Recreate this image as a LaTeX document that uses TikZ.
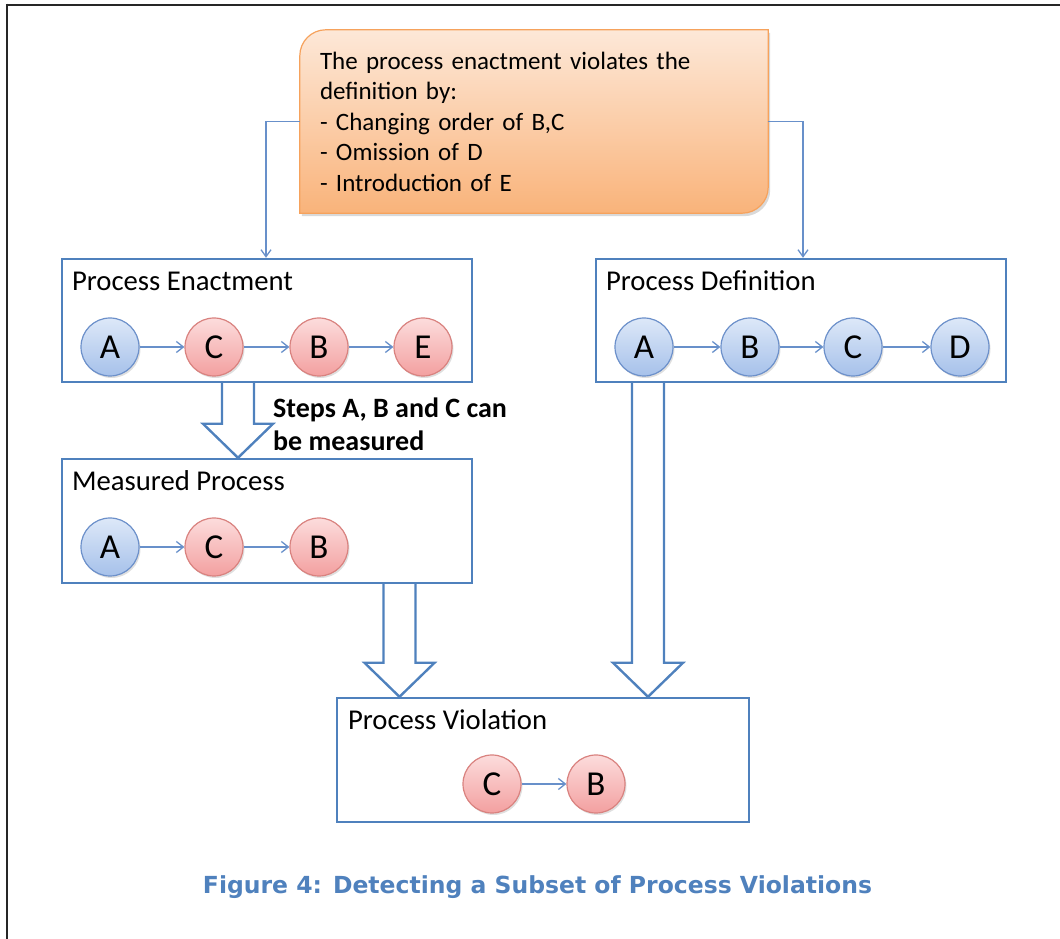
\documentclass[tikz,border=0pt]{standalone}
\usepackage{fontspec}
\setmainfont{Carlito}
\newfontfamily\capfont{DejaVu Sans}
\usetikzlibrary{arrows.meta,shadows,backgrounds,calc}

\definecolor{lineblue}{HTML}{4F81BD}
\definecolor{thinblue}{HTML}{6890CA}
\definecolor{bluetop}{HTML}{DDE8F8}
\definecolor{bluebot}{HTML}{A6C1EA}
\definecolor{blueedge}{HTML}{6C90CA}
\definecolor{redtop}{HTML}{FCDCDC}
\definecolor{redbot}{HTML}{F3A0A0}
\definecolor{rededge}{HTML}{D9827F}
\definecolor{notetop}{HTML}{FDE8D8}
\definecolor{notebot}{HTML}{F9B37A}
\definecolor{noteedge}{HTML}{F6A25C}

% hollow block arrow from the centre of one edge to a tip point
\newcommand\blockarrow[2]{%
  \draw[barrow] ($(#1)+(-16,0)$) -- ($(#2)+(-16,34)$) -- ($(#2)+(-35,34)$)
    -- (#2) -- ($(#2)+(35,34)$) -- ($(#2)+(16,34)$) -- ($(#1)+(16,0)$);}

\begin{document}
\begin{tikzpicture}[x=1pt,y=1pt,
  panel/.style={draw=lineblue,line width=2.4pt,minimum width=410pt,minimum height=123pt,inner sep=0pt},
  title/.style={anchor=base west,inner sep=0pt,font=\fontsize{28.7}{32}\selectfont},
  bstep/.style={circle,minimum size=58pt,inner sep=0pt,draw=blueedge,line width=1.2pt,
    top color=bluetop,bottom color=bluebot,font=\fontsize{35}{37}\selectfont,
    drop shadow={opacity=0.25,shadow xshift=1.5pt,shadow yshift=-2pt}},
  rstep/.style={bstep,draw=rededge,top color=redtop,bottom color=redbot},
  flow/.style={draw=thinblue,line width=1.3pt,-{Straight Barb[length=7pt,width=11pt]}},
  barrow/.style={draw=lineblue,line width=2.4pt,line join=miter},
  frame/.style={line width=2.5pt,black!85}]

\useasboundingbox (0,0) rectangle (1060,939);

% page frame (top and left rules)
\draw[frame] (5.75,934) -- (1060,934);
\draw[frame] (7,935.25) -- (7,0);

% annotation note
\node[minimum width=468pt,minimum height=183pt,inner sep=0pt,text width=428pt,align=left,
      font=\fontsize{25}{30.5}\selectfont] (co) at (534,817.5)
  {The process enactment violates the\\definition by:\\- Changing order of B,C\\- Omission of D\\- Introduction of E};
\begin{scope}[on background layer]
  \draw[draw=noteedge,line width=1.2pt,top color=notetop,bottom color=notebot,
        drop shadow={opacity=0.3,shadow xshift=2pt,shadow yshift=-3pt}]
    (co.south west) -- ($(co.north west)+(0,-26)$) arc[start angle=180,end angle=90,radius=26]
    -- (co.north east) -- ($(co.south east)+(0,26)$) arc[start angle=0,end angle=-90,radius=26]
    -- cycle;
\end{scope}

% panels
\node[panel] (enact) at (267,618.5) {};
\node[panel] (def) at (801,618.5) {};
\node[panel,minimum height=124pt] (meas) at (267,418) {};
\node[panel,minimum width=412pt,minimum height=124pt] (viol) at (543,179) {};

\node[title] (enactT) at ($(enact.north west)+(11,-33)$) {Process Enactment};
\node[title] (defT) at ($(def.north west)+(11,-33)$) {Process Definition};
\node[title] (measT) at ($(meas.north west)+(11,-33)$) {Measured Process};
\node[title] (violT) at ($(viol.north west)+(12,-33)$) {Process Violation};

% process enactment
\node[bstep] (eA) at (110,592) {A};
\node[rstep] (eC) at (214,592) {C};
\node[rstep] (eB) at (319,592) {B};
\node[rstep] (eE) at (423,592) {E};
\draw[flow] (eA) -- (eC);
\draw[flow] (eC) -- (eB);
\draw[flow] (eB) -- (eE);

% process definition
\node[bstep] (dA) at (644,592) {A};
\node[bstep] (dB) at (750,592) {B};
\node[bstep] (dC) at (853,592) {C};
\node[bstep] (dD) at (960,592) {D};
\draw[flow] (dA) -- (dB);
\draw[flow] (dB) -- (dC);
\draw[flow] (dC) -- (dD);

% measured process
\node[bstep] (mA) at (110,392) {A};
\node[rstep] (mC) at (214,392) {C};
\node[rstep] (mB) at (319,392) {B};
\draw[flow] (mA) -- (mC);
\draw[flow] (mC) -- (mB);

% process violation
\node[rstep] (vC) at (492,155) {C};
\node[rstep] (vB) at (596,155) {B};
\draw[flow] (vC) -- (vB);

% note connectors
\coordinate (xl) at (266,0);
\coordinate (xr) at (803,0);
\draw[flow,-{Straight Barb[length=7pt,width=10pt]}] (co.west) -| (enact.north -| xl);
\draw[flow,-{Straight Barb[length=7pt,width=10pt]}] (co.east) -| (def.north -| xr);

% block arrows
\coordinate (x1) at (238,0);
\coordinate (x2) at (399.5,0);
\coordinate (x3) at (648,0);
\coordinate (b1s) at (enact.south -| x1);
\coordinate (b1e) at (meas.north -| x1);
\coordinate (b2s) at (meas.south -| x2);
\coordinate (b2e) at (viol.north -| x2);
\coordinate (b3s) at (def.south -| x3);
\coordinate (b3e) at (viol.north -| x3);
\blockarrow{b1s}{b1e}
\blockarrow{b2s}{b2e}
\blockarrow{b3s}{b3e}

\node[anchor=base west,align=left,inner sep=0pt,font=\bfseries\fontsize{28}{33}\selectfont]
  (steps) at (273,488) {Steps A, B and C can\\be measured};

% caption
\node[inner sep=0pt,text=lineblue,font=\capfont\bfseries\fontsize{23.5}{26}\selectfont]
  (cap) at (537.5,52) {Figure 4: Detecting a Subset of Process Violations};
\end{tikzpicture}
\end{document}
